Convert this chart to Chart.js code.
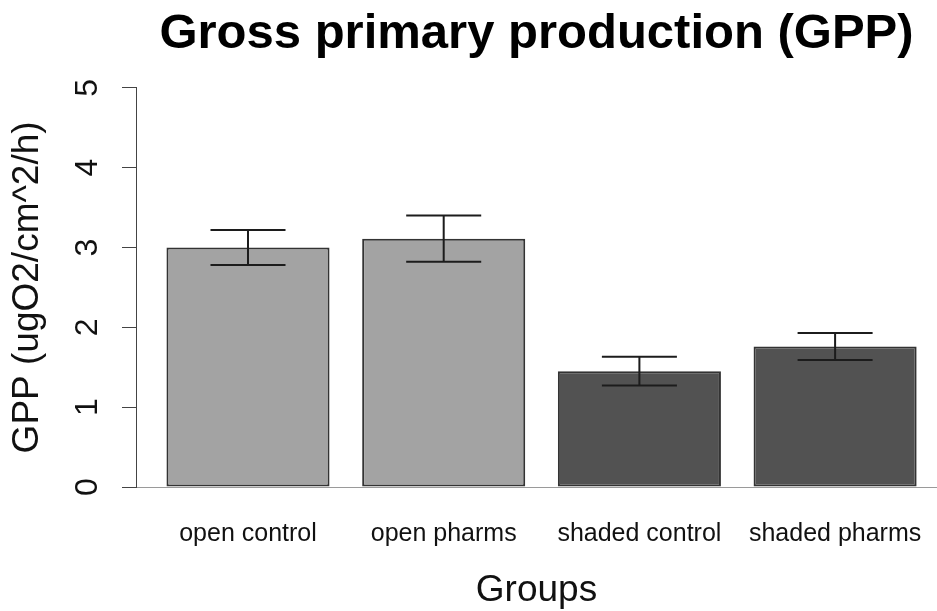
<!DOCTYPE html>
<html>
<head>
<meta charset="utf-8">
<script src="https://cdn.jsdelivr.net/npm/chart.js@4/dist/chart.umd.min.js"></script>
<style>
  html, body { margin: 0; padding: 0; background: #ffffff; }
  #wrap { width: 937px; height: 611px; }
</style>
</head>
<body>
<div id="wrap"><canvas id="gpp" width="937" height="611"></canvas></div>
<script>
// Group names, mean GPP and standard error for each group
const categories = ['open control', 'open pharms', 'shaded control', 'shaded pharms'];
const gppMean = [3.00, 3.11, 1.45, 1.76];
const gppSE = [0.22, 0.29, 0.18, 0.17];
const barColors = ['#a3a3a3', '#a3a3a3', '#525252', '#525252'];
const yTicks = [0, 1, 2, 3, 4, 5];

const FONT = '"Liberation Sans", Arial, Helvetica, sans-serif';

// Draws mean ± SE whiskers with caps on top of each bar
const errorBars = {
  id: 'errorBars',
  afterDatasetsDraw(chart) {
    const { ctx, scales: { x, y } } = chart;
    const meta = chart.getDatasetMeta(0);
    ctx.save();
    ctx.strokeStyle = '#1c1c1c';
    ctx.lineWidth = 2;
    gppMean.forEach((m, i) => {
      const bar = meta.data[i];
      const cx = x.getPixelForValue(i);
      const half = bar.width * 0.23;
      const yHi = y.getPixelForValue(m + gppSE[i]);
      const yLo = y.getPixelForValue(m - gppSE[i]);
      ctx.beginPath();
      ctx.moveTo(cx, yHi); ctx.lineTo(cx, yLo);
      ctx.moveTo(cx - half, yHi); ctx.lineTo(cx + half, yHi);
      ctx.moveTo(cx - half, yLo); ctx.lineTo(cx + half, yLo);
      ctx.stroke();
    });
    ctx.restore();
  }
};

new Chart(document.getElementById('gpp'), {
  type: 'bar',
  data: {
    datasets: [{
      data: gppMean.map((v, i) => ({ x: i, y: v })),
      backgroundColor: barColors,
      borderColor: '#333333',
      borderWidth: 2,
      borderSkipped: false,
      barPercentage: 1 / 1.2,
      categoryPercentage: 1
    }]
  },
  options: {
    responsive: false,
    animation: false,
    devicePixelRatio: 1,
    layout: { padding: 0 },
    plugins: {
      legend: { display: false },
      tooltip: { enabled: false },
      title: {
        display: true,
        text: 'Gross primary production (GPP)',
        fullSize: false,
        color: '#000000',
        font: { family: FONT, size: 49, weight: 'bold' },
        padding: { top: 5, bottom: 24 }
      }
    },
    scales: {
      x: {
        type: 'linear',
        offset: false,
        min: -0.5723,
        max: 3.5207,
        afterBuildTicks: (s) => { s.ticks = categories.map((c, i) => ({ value: i })); },
        afterFit: (s) => { s.height = 124; s.paddingLeft = 0; s.paddingRight = 0; },
        ticks: {
          autoSkip: false,
          maxRotation: 0,
          padding: 32,
          color: '#111111',
          font: { family: FONT, size: 25 },
          callback: (v) => categories[v]
        },
        grid: { display: false, drawTicks: false },
        border: { display: true, color: '#9a9a9a', width: 1 },
        title: {
          display: true,
          text: 'Groups',
          color: '#111111',
          font: { family: FONT, size: 37 },
          padding: { top: 0, bottom: -2 }
        }
      },
      y: {
        min: 0,
        max: 5,
        afterBuildTicks: (s) => { s.ticks = yTicks.map((v) => ({ value: v })); },
        afterFit: (s) => { s.width = 136; s.paddingTop = 0; s.paddingBottom = 0; },
        ticks: {
          minRotation: 90,
          maxRotation: 90,
          crossAlign: 'center',
          padding: 25,
          color: '#111111',
          font: { family: FONT, size: 32 }
        },
        grid: { drawOnChartArea: false, drawTicks: true, tickLength: 14, color: '#444444', lineWidth: 1 },
        border: { display: true, color: '#444444', width: 1 },
        title: {
          display: true,
          text: 'GPP (ugO2/cm^2/h)',
          color: '#111111',
          font: { family: FONT, size: 37 },
          padding: { top: 6, bottom: 0 }
        }
      }
    }
  },
  plugins: [errorBars]
});
</script>
</body>
</html>
